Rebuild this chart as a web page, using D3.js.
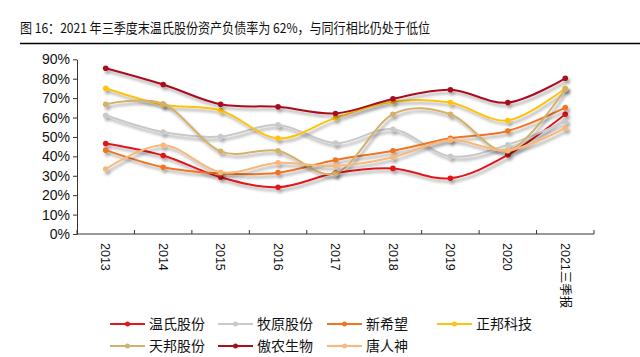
<!DOCTYPE html>
<html><head><meta charset="utf-8">
<script src="https://cdn.jsdelivr.net/npm/d3@7"></script>
<style>body{margin:0;background:#fff}svg{display:block}</style>
</head><body>
<script>
const title = "图 16：2021 年三季度末温氏股份资产负债率为 62%，与同行相比仍处于低位";
const years = ["2013","2014","2015","2016","2017","2018","2019","2020","2021三季报"];
const yTicks = [0,10,20,30,40,50,60,70,80,90];
const seriesNames = ["温氏股份","牧原股份","新希望","正邦科技","天邦股份","傲农生物","唐人神"];
const wens     = [46.6, 40.4, 29.2, 24.1, 31.4, 33.8, 28.7, 40.7, 61.7];
const muyuan   = [61.2, 52.5, 50.2, 56.2, 46.8, 54.0, 40.0, 46.0, 58.0];
const xinxiwang= [43.2, 34.4, 31.2, 31.6, 38.1, 42.9, 49.3, 53.1, 65.1];
const zhengbang= [75.1, 66.6, 63.6, 49.3, 59.8, 68.2, 67.7, 58.5, 75.1];
const tianbang = [66.8, 67.1, 42.6, 42.9, 31.2, 61.7, 61.7, 42.9, 74.7];
const aonong   = [85.4, 77.0, 66.8, 65.5, 62.1, 69.6, 74.3, 67.7, 80.2];
const tangrenshen = [33.5, 45.7, 31.8, 36.7, 35.0, 39.5, 48.4, 43.1, 54.5];
const seriesValues = [wens, muyuan, xinxiwang, zhengbang, tianbang, aonong, tangrenshen];
const colors = ["#e0181b","#c9c9c9","#f07422","#ffc20e","#d4b06a","#a8101c","#f8b87a"];

const W = 640, H = 357;
const svg = d3.select("body").append("svg").attr("width", W).attr("height", H);
const defs = svg.append("defs");
const f = defs.append("filter").attr("id","sh").attr("x","-10%").attr("y","-10%").attr("width","130%").attr("height","140%");
f.append("feDropShadow").attr("dx",2).attr("dy",3).attr("stdDeviation",1.6)
  .attr("flood-color","#000").attr("flood-opacity",0.35);

// Title
svg.append("text").attr("x",20).attr("y",33)
  .attr("font-family","'Noto Sans CJK SC', sans-serif").attr("font-size",13.5)
  .attr("textLength",410).attr("lengthAdjust","spacingAndGlyphs")
  .attr("fill","#111").text(title);
svg.append("line").attr("x1",20).attr("x2",640).attr("y1",43.5).attr("y2",43.5)
  .attr("stroke","#000").attr("stroke-width",1.5);

const x = d3.scaleBand().domain(years).range([77,594]);
const y = d3.scaleLinear().domain([0,90]).range([234,59.3]);

// Y axis
const ya = svg.append("g").attr("transform","translate(77,0)")
  .call(d3.axisLeft(y).tickValues(yTicks).tickFormat(d=>d+"%").tickSize(4).tickSizeOuter(0));
ya.select(".domain").attr("stroke","#333");
ya.selectAll(".tick line").attr("stroke","#333");
ya.selectAll("text").attr("font-family","'Liberation Sans', Arial, sans-serif")
  .attr("font-size",14).attr("fill","#111").attr("x",-7);

// X axis
const xg = svg.append("g");
xg.append("line").attr("x1",77).attr("x2",594).attr("y1",234).attr("y2",234).attr("stroke","#333");
const bounds = years.map(d=>x(d)+x.bandwidth()).concat([x(years[0])]);
xg.selectAll("line.tk").data(bounds).join("line").attr("class","tk")
  .attr("x1",d=>d).attr("x2",d=>d).attr("y1",230).attr("y2",234).attr("stroke","#333");
xg.selectAll("text").data(years).join("text")
  .attr("transform",d=>`translate(${x(d)+x.bandwidth()/2},243) rotate(90)`)
  .attr("dy","0.35em").attr("text-anchor","start")
  .attr("font-family","'Liberation Sans', Arial, 'Noto Sans CJK SC', sans-serif")
  .attr("font-size",12.5).attr("fill","#111").text(d=>d);

// Lines
const line = d3.line().x((d,i)=>x(years[i])+x.bandwidth()/2).y(d=>y(d)).curve(d3.curveCatmullRom.alpha(0));
const lg = svg.append("g");
seriesValues.forEach((vals,k)=>{
  const g = lg.append("g").attr("filter","url(#sh)");
  g.append("path").datum(vals).attr("d",line).attr("fill","none")
    .attr("stroke",colors[k]).attr("stroke-width",2);
  g.selectAll("circle").data(vals).join("circle")
    .attr("cx",(d,i)=>x(years[i])+x.bandwidth()/2).attr("cy",d=>y(d)).attr("r",2.8)
    .attr("fill",colors[k]);
});

// Legend
const legPos = [[110,324],[218,324],[327,324],[437,324],[110,346],[218,346],[327,346]];
seriesNames.forEach((n,k)=>{
  const [lx,ly] = legPos[k];
  svg.append("line").attr("x1",lx).attr("x2",lx+35).attr("y1",ly).attr("y2",ly)
    .attr("stroke",colors[k]).attr("stroke-width",2);
  svg.append("circle").attr("cx",lx+17.5).attr("cy",ly).attr("r",2.5).attr("fill",colors[k]);
  svg.append("text").attr("x",lx+39).attr("y",ly).attr("dy","0.36em")
    .attr("font-family","'Noto Sans CJK SC', sans-serif").attr("font-size",14)
    .attr("fill","#111").text(n);
});
</script>
</body></html>
